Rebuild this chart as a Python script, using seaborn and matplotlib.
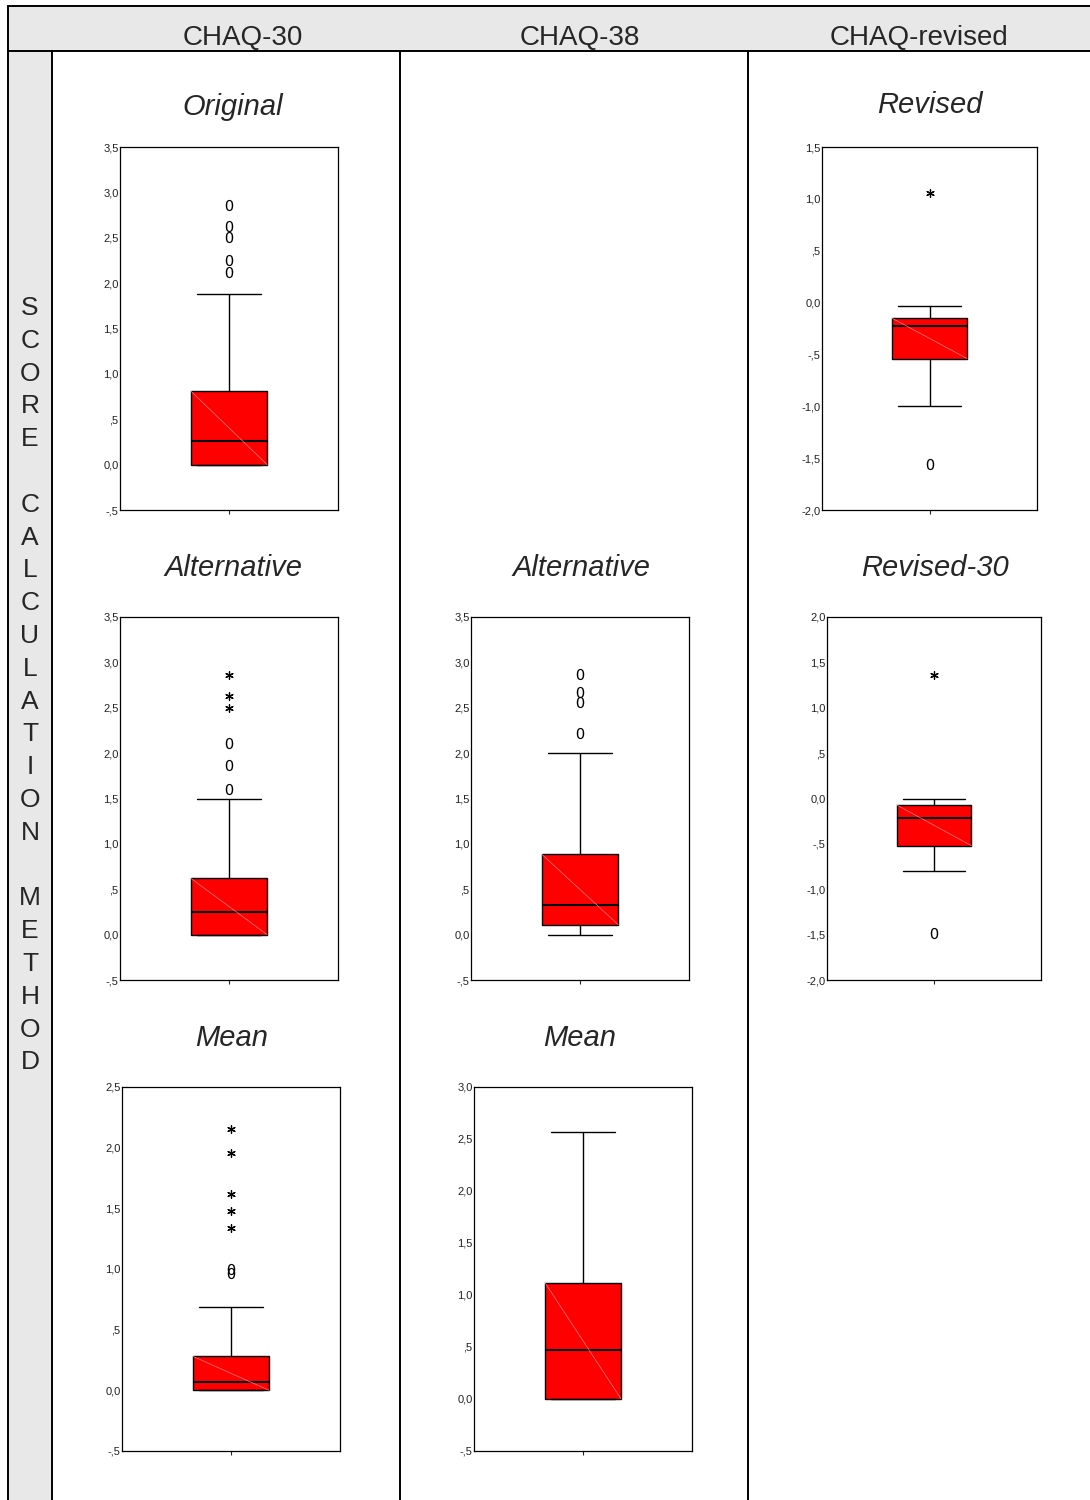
import numpy as np
import pandas as pd
import matplotlib.pyplot as plt
import seaborn as sns
from matplotlib.patches import Rectangle
from matplotlib.lines import Line2D

# five-number summaries: [min, Q1, median, Q3, max]
original_box = [0.0, 0.0, 0.26, 0.81, 1.88]
original_circles = [2.12, 2.25, 2.51, 2.63, 2.86]
original_stars = []

revised_box = [-1.0, -0.54, -0.23, -0.15, -0.03]
revised_circles = [-1.56]
revised_stars = [1.06]

alt30_box = [0.0, 0.0, 0.25, 0.62, 1.49]
alt30_circles = [1.61, 1.87, 2.11]
alt30_stars = [2.50, 2.63, 2.86]

alt38_box = [0.0, 0.11, 0.33, 0.885, 2.0]
alt38_circles = [2.22, 2.56, 2.67, 2.87]
alt38_stars = []

rev30_box = [-0.80, -0.52, -0.21, -0.07, 0.0]
rev30_circles = [-1.48]
rev30_stars = [1.36]

mean30_box = [0.0, 0.0, 0.07, 0.28, 0.69]
mean30_circles = [0.965, 1.0]
mean30_stars = [1.34, 1.48, 1.62, 1.96, 2.15]

mean38_box = [0.0, 0.0, 0.47, 1.12, 2.57]
mean38_circles = []
mean38_stars = []

columns = ["CHAQ-30", "CHAQ-38", "CHAQ-revised"]
side_label = "SCORE CALCULATION METHOD"

W, H = 1090, 1500

sns.set_style("white")
plt.rcParams["font.family"] = ["Liberation Sans", "DejaVu Sans"]

fig = plt.figure(figsize=(W / 100, H / 100), dpi=100)


def fx(x):
    return x / W


def fy(y):
    return 1 - y / H


def spss_label(v):
    s = f"{abs(v):.1f}".replace(".", ",")
    if s.startswith("0,") and abs(v) < 1 and round(abs(v), 1) != 0:
        s = s[1:]
    return ("-" if v < 0 else "") + s


# table background and grid
fig.add_artist(Rectangle((fx(8), fy(51)), fx(1090 - 8), 45 / H, transform=fig.transFigure,
                         facecolor="#e8e8e8", edgecolor="none", zorder=0))
fig.add_artist(Rectangle((fx(8), fy(1500)), fx(52 - 8), (1500 - 51) / H, transform=fig.transFigure,
                         facecolor="#e8e8e8", edgecolor="none", zorder=0))
lines = [((8, 1090), (6, 6)), ((8, 1090), (51, 51)), ((8, 8), (6, 1500)),
         ((52, 52), (51, 1500)), ((400, 400), (51, 1500)), ((748, 748), (51, 1500))]
for xs, ys in lines:
    fig.add_artist(Line2D([fx(x) for x in xs], [fy(y) for y in ys], color="black",
                          lw=1.4, transform=fig.transFigure, zorder=1))

for name, cx in zip(columns, [243, 580, 919]):
    fig.text(fx(cx), fy(45), name, ha="center", va="baseline", fontsize=20)

letters = list(side_label)
for i, ch in enumerate(letters):
    if ch != " ":
        fig.text(fx(30), fy(308 + i * 32.8), ch, ha="center", va="center", fontsize=19)

panels = [
    ("Original", original_box, original_circles, original_stars, (120, 338, 147, 510), (-0.5, 3.5), (233, 107)),
    ("Revised", revised_box, revised_circles, revised_stars, (822, 1037, 147, 510), (-2.0, 1.5), (930, 105)),
    ("Alternative", alt30_box, alt30_circles, alt30_stars, (120, 338, 617, 980), (-0.5, 3.5), (233, 568)),
    ("Alternative", alt38_box, alt38_circles, alt38_stars, (471, 689, 617, 980), (-0.5, 3.5), (581, 568)),
    ("Revised-30", rev30_box, rev30_circles, rev30_stars, (827, 1041, 617, 980), (-2.0, 2.0), (935, 568)),
    ("Mean", mean30_box, mean30_circles, mean30_stars, (122, 340, 1087, 1451), (-0.5, 2.5), (232, 1038)),
    ("Mean", mean38_box, mean38_circles, mean38_stars, (474, 692, 1087, 1451), (-0.5, 3.0), (580, 1038)),
]

box_w = 0.35
for title, box, circles, stars, (x0, x1, y0, y1), (lo, hi), (tx, ty) in panels:
    ax = fig.add_axes([fx(x0), fy(y1), (x1 - x0) / W, (y1 - y0) / H])
    sns.boxplot(y=box, ax=ax, whis=(0, 100), width=box_w, color="#ff0000", saturation=1,
                linecolor="black", linewidth=1, showfliers=False, capwidths=0.29,
                medianprops={"linewidth": 1.5, "color": "black"})
    # thin light diagonal across the box, as in the original rendering
    ax.plot([-box_w / 2, box_w / 2], [box[3], box[1]], color="#ff8080", lw=0.5, zorder=3)
    if circles:
        sns.scatterplot(x=[0] * len(circles), y=circles, ax=ax, marker="$0$", s=65,
                        color="black", linewidth=0, legend=False, zorder=4)
    if stars:
        sns.scatterplot(x=[0] * len(stars), y=stars, ax=ax, marker=(6, 2, 0), s=30,
                        color="black", linewidth=0.9, legend=False, zorder=4)
    ax.set_xlim(-0.5, 0.5)
    ax.set_ylim(lo, hi)
    ticks = np.arange(lo, hi + 0.01, 0.5)
    ax.set_yticks(ticks)
    ax.set_yticklabels([spss_label(t) for t in ticks])
    ax.set_xticks([0])
    ax.set_xticklabels([""])
    ax.set_xlabel("")
    ax.set_ylabel("")
    ax.tick_params(axis="y", length=0, pad=1, labelsize=8, labelcolor="#222222")
    ax.tick_params(axis="x", length=3, width=0.8, direction="out", bottom=True)
    for sp in ax.spines.values():
        sp.set_visible(True)
        sp.set_color("black")
        sp.set_linewidth(0.9)
    fig.text(fx(tx), fy(ty), title, ha="center", va="center", fontsize=21, style="italic")

fig.savefig("out.png", dpi=100)
